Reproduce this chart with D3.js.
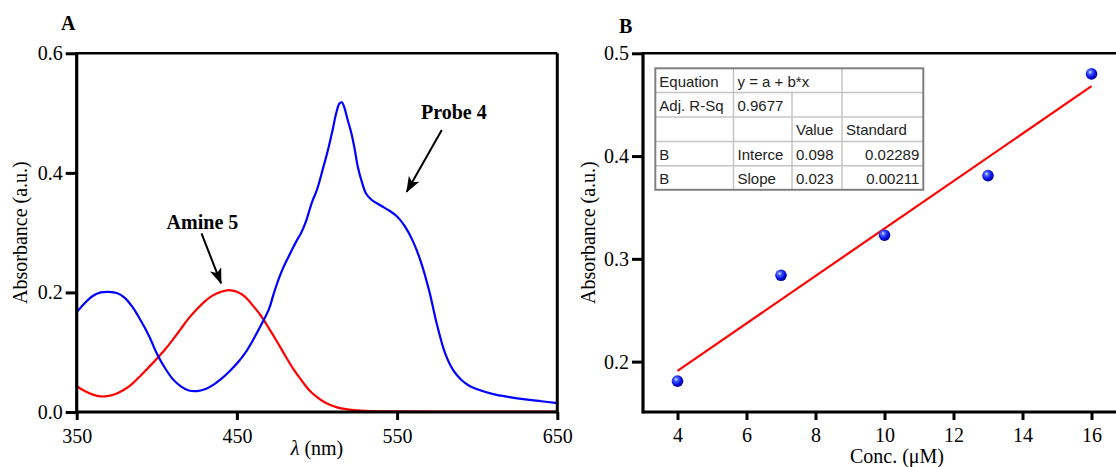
<!DOCTYPE html>
<html>
<head>
<meta charset="utf-8">
<script src="https://cdn.jsdelivr.net/npm/d3@7"></script>
<style>
  body { margin: 0; background: #fff; }
  svg { display: block; }
  .tick text { font-family: "Liberation Serif", serif; font-size: 20px; fill: #000; }
  .tick line { stroke: #000; stroke-width: 3; }
  .lbl { font-family: "Liberation Serif", serif; font-size: 20px; fill: #000; }
  .tbl { font-family: "Liberation Sans", Arial, sans-serif; font-size: 15px; fill: #222; }
</style>
</head>
<body>
<svg id="chart" width="1116" height="467"></svg>
<script>
// panel A: UV-vis spectra
const wlProbe = [350,355,360,365,370,375,380,385,390,395,400,405,410,415,420,425,430,435,440,445,450,455,460,465,470,473,476,479,483,487,490,493,497,500,504,507,510,512,514,515.5,517,519,521.5,523.5,525.5,528,530.5,534,540,545,550,555,560,565,570,575,580,585,590,595,600,610,620,630,640,650];
const absProbe = [0.167,0.182,0.194,0.200,0.201,0.199,0.191,0.175,0.153,0.128,0.098,0.074,0.055,0.043,0.036,0.035,0.038,0.045,0.055,0.067,0.081,0.098,0.120,0.145,0.172,0.198,0.222,0.242,0.264,0.285,0.299,0.318,0.352,0.372,0.410,0.440,0.475,0.500,0.516,0.518,0.510,0.490,0.466,0.440,0.410,0.385,0.366,0.355,0.345,0.337,0.327,0.310,0.285,0.250,0.203,0.145,0.098,0.070,0.054,0.044,0.038,0.030,0.025,0.021,0.018,0.015];
const wlAmine = [350,355,360,365,370,375,380,385,390,395,400,405,410,415,420,425,430,435,440,445,450,455,460,465,470,475,480,485,490,495,500,505,510,515,520,530,550,600,650];
const absAmine = [0.043,0.035,0.029,0.026,0.027,0.031,0.038,0.048,0.061,0.075,0.089,0.104,0.121,0.139,0.157,0.172,0.185,0.195,0.201,0.204,0.201,0.193,0.178,0.161,0.140,0.118,0.095,0.073,0.054,0.037,0.025,0.016,0.010,0.006,0.004,0.002,0.001,0.0006,0.0005];
const ticksA_x = [350,450,550,650];
const ticksA_y = [0.0,0.2,0.4,0.6];

// panel B: calibration
const conc = [4,7,10,13,16];
const absB = [0.181,0.284,0.323,0.381,0.480];
const fitX = [4,16];
const fitY = [0.191,0.468];
const ticksB_x = [4,6,8,10,12,14,16];
const ticksB_y = [0.2,0.3,0.4,0.5];

const fitTable = [
  [["Equation",1],["y = a + b*x",2],["",1]],
  [["Adj. R-Sq",1],["0.9677",1],["",1],["",1]],
  [["",1],["",1],["Value",1],["Standard",1]],
  [["B",1],["Interce",1],["0.098",1],["0.02289",1]],
  [["B",1],["Slope",1],["0.023",1],["0.00211",1]]
];

const svg = d3.select("#chart");

const defs = svg.append("defs");
defs.append("marker")
  .attr("id", "head")
  .attr("markerUnits", "userSpaceOnUse")
  .attr("viewBox", "0 0 16 12")
  .attr("refX", 15).attr("refY", 6)
  .attr("markerWidth", 16).attr("markerHeight", 12)
  .attr("orient", "auto")
  .append("path")
  .attr("d", "M0,0 L16,6 L0,12 L4,6 Z")
  .attr("fill", "#000");

const grad = defs.append("radialGradient")
  .attr("id", "ball").attr("cx", "38%").attr("cy", "35%").attr("r", "65%");
grad.append("stop").attr("offset", "0%").attr("stop-color", "#e6ecff");
grad.append("stop").attr("offset", "25%").attr("stop-color", "#4a66ff");
grad.append("stop").attr("offset", "65%").attr("stop-color", "#0a14e6");
grad.append("stop").attr("offset", "100%").attr("stop-color", "#00009a");

// ---------- panel A ----------
const xA = d3.scaleLinear().domain([350,650]).range([76.7,557.3]);
const yA = d3.scaleLinear().domain([0,0.6]).range([412,53.3]);

const gA = svg.append("g");

const lineA = d3.line().curve(d3.curveCatmullRom.alpha(0.5));

gA.append("path")
  .attr("d", lineA(wlAmine.map((w, i) => [xA(w), yA(absAmine[i])])))
  .attr("fill", "none").attr("stroke", "#ff0000").attr("stroke-width", 2.2);

gA.append("path")
  .attr("d", lineA(wlProbe.map((w, i) => [xA(w), yA(absProbe[i])])))
  .attr("fill", "none").attr("stroke", "#0000ff").attr("stroke-width", 2.2);

// frame
gA.append("line").attr("x1", xA(350)).attr("x2", xA(650)).attr("y1", yA(0.6)).attr("y2", yA(0.6))
  .attr("stroke", "#000").attr("stroke-width", 2.5);
gA.append("line").attr("x1", xA(650)).attr("x2", xA(650)).attr("y1", yA(0.6)).attr("y2", yA(0))
  .attr("stroke", "#000").attr("stroke-width", 3);

const axA_x = gA.append("g").attr("transform", `translate(0,${yA(0)})`)
  .call(d3.axisBottom(xA).tickValues(ticksA_x).tickSize(8).tickSizeOuter(0).tickPadding(9).tickFormat(d3.format("d")));
const axA_y = gA.append("g").attr("transform", `translate(${xA(350)},0)`)
  .call(d3.axisLeft(yA).tickValues(ticksA_y).tickSize(11).tickSizeOuter(0).tickPadding(3).tickFormat(d3.format(".1f")));
[axA_x, axA_y].forEach(a => a.select(".domain").remove());

gA.append("line").attr("x1", xA(350)).attr("x2", xA(650) + 1).attr("y1", yA(0)).attr("y2", yA(0))
  .attr("stroke", "#000").attr("stroke-width", 3.2);
gA.append("line").attr("x1", xA(350)).attr("x2", xA(350)).attr("y1", yA(0.6) - 1).attr("y2", yA(0) + 1)
  .attr("stroke", "#000").attr("stroke-width", 3.2);

gA.append("text").attr("class", "lbl")
  .attr("transform", `translate(27,${(yA(0) + yA(0.6)) / 2}) rotate(-90)`)
  .attr("text-anchor", "middle").text("Absorbance (a.u.)");

const xlabA = gA.append("text").attr("class", "lbl").attr("font-size", 22)
  .attr("x", (xA(350) + xA(650)) / 2).attr("y", 455).attr("text-anchor", "middle");
xlabA.append("tspan").attr("font-style", "italic").text("λ");
xlabA.append("tspan").text(" (nm)");

gA.append("text").attr("class", "lbl")
  .attr("x", 61).attr("y", 30).attr("font-weight", "bold").attr("font-size", 22).text("A");

// annotations
gA.append("text").attr("class", "lbl").attr("font-weight", "bold").attr("font-size", 21)
  .attr("x", xA(585.4)).attr("y", yA(0.49)).attr("text-anchor", "middle").text("Probe 4");
gA.append("line")
  .attr("x1", xA(577.9)).attr("y1", yA(0.4716)).attr("x2", xA(556)).attr("y2", yA(0.3684))
  .attr("stroke", "#000").attr("stroke-width", 2).attr("marker-end", "url(#head)");

gA.append("text").attr("class", "lbl").attr("font-weight", "bold").attr("font-size", 21)
  .attr("x", xA(428.5)).attr("y", yA(0.306)).attr("text-anchor", "middle").text("Amine 5");
gA.append("line")
  .attr("x1", xA(427.9)).attr("y1", yA(0.2988)).attr("x2", xA(440.1)).attr("y2", yA(0.2152))
  .attr("stroke", "#000").attr("stroke-width", 2).attr("marker-end", "url(#head)");

// ---------- panel B ----------
const xB = d3.scaleLinear().domain([3,17]).range([643,1126]);
const yB = d3.scaleLinear().domain([0.15,0.5]).range([413,53.3]);

const gB = svg.append("g");

gB.append("line").attr("x1", xB(3)).attr("x2", 1116).attr("y1", yB(0.5)).attr("y2", yB(0.5))
  .attr("stroke", "#000").attr("stroke-width", 2.5);

const axB_x = gB.append("g").attr("transform", `translate(0,412)`)
  .call(d3.axisBottom(xB).tickValues(ticksB_x).tickSize(8).tickSizeOuter(0).tickPadding(7.5).tickFormat(d3.format("d")));
const axB_y = gB.append("g").attr("transform", `translate(${xB(3)},0)`)
  .call(d3.axisLeft(yB).tickValues(ticksB_y).tickSize(11).tickSizeOuter(0).tickPadding(3).tickFormat(d3.format(".1f")));
[axB_x, axB_y].forEach(a => a.select(".domain").remove());

gB.append("line").attr("x1", xB(3)).attr("x2", 1116).attr("y1", 412).attr("y2", 412)
  .attr("stroke", "#000").attr("stroke-width", 3.2);
gB.append("line").attr("x1", xB(3)).attr("x2", xB(3)).attr("y1", yB(0.5) - 1).attr("y2", 413.5)
  .attr("stroke", "#000").attr("stroke-width", 3.2);

gB.append("line")
  .attr("x1", xB(fitX[0])).attr("y1", yB(fitY[0]))
  .attr("x2", xB(fitX[1])).attr("y2", yB(fitY[1]))
  .attr("stroke", "#ff0000").attr("stroke-width", 2.2);

gB.selectAll("circle.pt")
  .data(conc)
  .enter()
  .append("circle")
  .attr("class", "pt")
  .attr("cx", d => xB(d))
  .attr("cy", (d, i) => yB(absB[i]))
  .attr("r", 5.8)
  .attr("fill", "url(#ball)");

gB.append("text").attr("class", "lbl")
  .attr("transform", `translate(595,${(412 + yB(0.5)) / 2}) rotate(-90)`)
  .attr("text-anchor", "middle").text("Absorbance (a.u.)");

gB.append("text").attr("class", "lbl").attr("font-size", 19)
  .attr("x", 897).attr("y", 463).attr("text-anchor", "middle").text("Conc. (μM)");

gB.append("text").attr("class", "lbl")
  .attr("x", 619).attr("y", 33).attr("font-weight", "bold").attr("font-size", 22).text("B");

// fit table
const colX = [655.3, 733.5, 792, 842, 923.3];
const rowY = [68.3, 92.6, 117, 141.4, 165.8, 189.8];
const tbl = gB.append("g");

tbl.append("rect")
  .attr("x", colX[0]).attr("y", rowY[0])
  .attr("width", colX[4] - colX[0]).attr("height", rowY[5] - rowY[0])
  .attr("fill", "#fff");

fitTable.forEach((row, r) => {
  let c = 0;
  row.forEach(([txt, span]) => {
    const x0 = colX[c], x1 = colX[c + span];
    if (c > 0) {
      tbl.append("line").attr("x1", x0).attr("x2", x0).attr("y1", rowY[r]).attr("y2", rowY[r + 1])
        .attr("stroke", "#c4c4c4").attr("stroke-width", 1.5);
    }
    const right = c === 3 && r >= 3;
    tbl.append("text").attr("class", "tbl")
      .attr("x", right ? x1 - 4 : x0 + 4)
      .attr("y", rowY[r + 1] - 6)
      .attr("text-anchor", right ? "end" : "start")
      .text(txt);
    c += span;
  });
  if (r > 0) {
    tbl.append("line").attr("x1", colX[0]).attr("x2", colX[4]).attr("y1", rowY[r]).attr("y2", rowY[r])
      .attr("stroke", "#c4c4c4").attr("stroke-width", 1.5);
  }
});

tbl.append("rect")
  .attr("x", colX[0]).attr("y", rowY[0])
  .attr("width", colX[4] - colX[0]).attr("height", rowY[5] - rowY[0])
  .attr("fill", "none").attr("stroke", "#808080").attr("stroke-width", 2);
</script>
</body>
</html>
